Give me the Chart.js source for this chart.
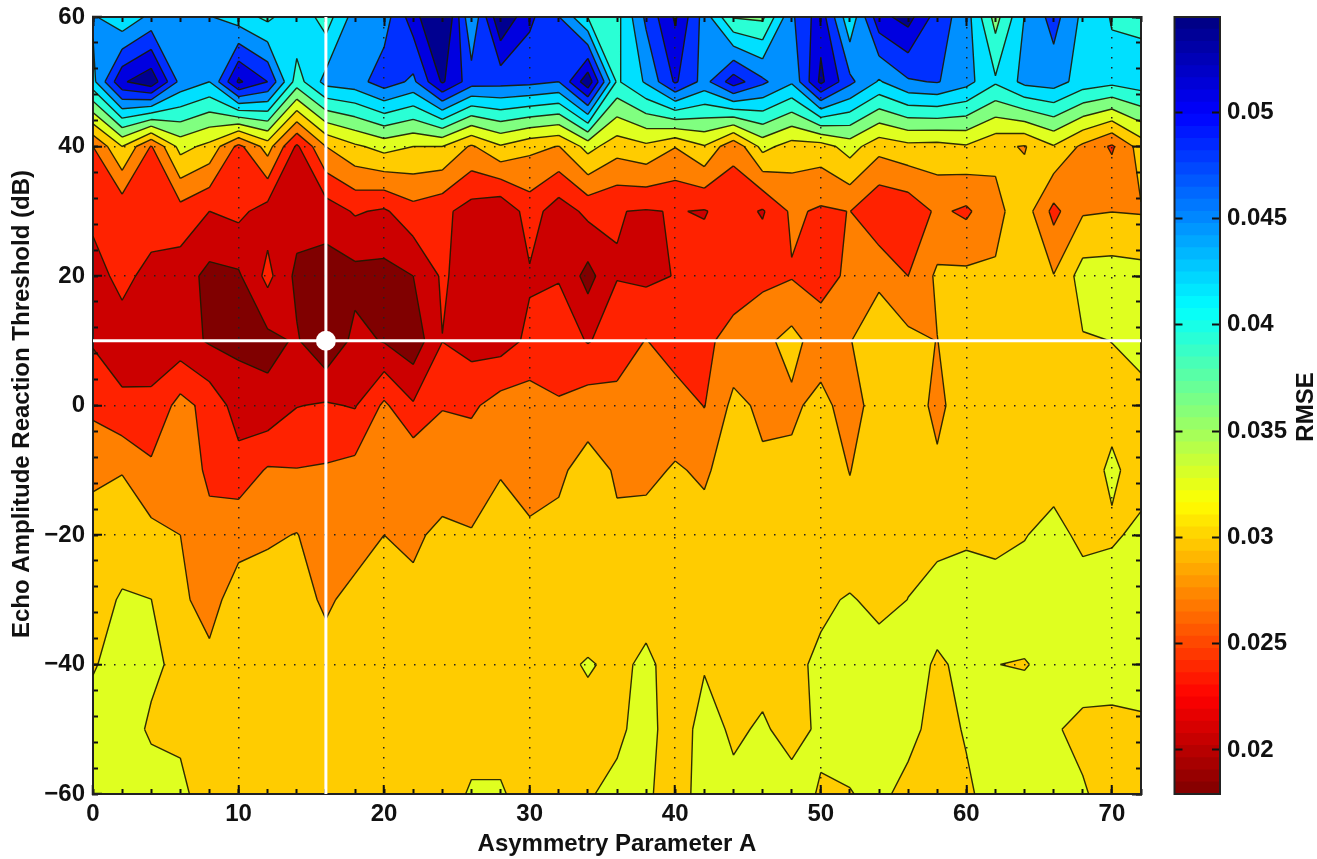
<!DOCTYPE html>
<html>
<head>
<meta charset="utf-8">
<title>RMSE contour</title>
<script src="https://cdn.jsdelivr.net/npm/chart.js@4"></script>
<style>
    html, body { margin: 0; padding: 0; background: #fff; }
    #plot { position: absolute; left: 0; top: 0; }
    #bar { position: absolute; left: 1150px; top: 0; }
</style>
</head>
<body>
<canvas id="plot" width="1317" height="859"></canvas>
<canvas id="bar" width="167" height="859"></canvas>
<script>
// grid of the measurement, RMSE is given x 1000
const asymmetry = [0,2,4,6,8,10,12,14,16,18,20,22,24,26,28,30,32,34,36,38,40,42,44,46,48,50,52,54,56,58,60,62,64,66,68,70,72];
const thresholds = [60,50,40,30,20,10,0,-10,-20,-30,-40,-50,-60];
// one line per asymmetry value, top (60 dB) to bottom (-60 dB)
const rmseByColumn = [
    [43.6,42.4,26.4,24.1,22.8,23.3,25.8,28.4,30.8,30.8,31.8,33,33],
    [40.9,51.2,32,24.4,24.2,22.6,24,29.1,30.5,32.3,33,33,33.2],
    [44,53.6,26.2,24.8,22.9,22.4,24.1,27,30,32.02,32.4,31.7,33],
    [44.2,45.1,33,25.3,22.2,21.9,27.4,28.3,29.2,29.5,31.5,31.6,32.5],
    [43.4,43.2,31.2,23.6,20,20.5,25.4,25.8,27.3,28.6,29.6,31,30.9],
    [41.8,52.1,25.6,24.3,20.4,20.1,22.4,24.6,28.6,30,31,31,30.8],
    [39.7,48.8,30.4,22.4,24.4,20,21.6,26.7,28.8,30.6,31,31,30.8],
    [42.7,39.1,23.1,22.1,20.1,21.1,23.5,26.5,29.3,29.9,31,31,30.8],
    [39,44.2,29.2,22.1,19.5,18.3,23.9,26.7,27.7,28.9,29.9,31,30.9],
    [44.5,44.8,31.5,23.9,19.9,21.6,23.4,27.3,28.3,29.8,31,31,31],
    [44.7,47.5,33,23.2,19.9,20.6,26.9,27.9,29.2,30.5,31,31,31],
    [50.3,45.4,32,25.4,20.8,19,23.9,28.9,29.05,29.4,31,31,31],
    [56,52,32,24.3,24,23.55,26.2,28.7,29.4,30.6,31,31,31.2],
    [43.3,47.3,28.8,22.4,22.2,22.5,25.9,28.4,29.3,30.3,31,31.3,32.2],
    [54.3,47,31.7,21.2,22,22.3,27.6,29.1,29.8,30.6,31,31.3,32.2],
    [49.4,46.8,29.9,24.9,23.3,24.2,27.8,28.7,29.4,30.8,31,31,31.2],
    [46.1,46,29.1,22.1,23.4,25.2,26.6,28.7,29.9,30.3,31.3,31,31.3],
    [40.3,53.6,33,24.3,19.8,23.4,27.8,30.3,30.5,30,32.25,31,31.8],
    [39.5,40,30.4,23.7,23.5,24.9,27.3,28.9,29.6,30.4,31.4,31.5,32.6],
    [46.6,43.6,31.4,23.4,23,26.5,27.6,28.7,30,31,32.5,33,32.5],
    [52,49.2,29.3,23.75,23.7,24.7,28,29.4,30.5,31,31,30.5,30.5],
    [44.8,45,31.8,23.4,25,25.8,26.3,28.9,29.9,31,31.8,33,33.3],
    [37.4,50.3,27,25,24.9,27.4,29.9,30.2,30.8,31.4,31.6,31.6,32.6],
    [37,46.6,32.9,23.3,25.7,28.5,28.7,29.6,31,31.5,31.2,32.3,33],
    [45.5,43.6,30.8,26.9,26.2,30.1,28.7,29.8,31,31.3,31.5,31.2,32.9],
    [50.4,52.3,30.7,26,25.4,27.8,30,31,31.6,31.6,32.4,32.4,31.8],
    [41,46.7,33.2,26.45,26.9,29.1,28,29.1,30.3,32.2,32.9,32.9,31.9],
    [50.7,42.9,30.2,23.8,28.7,30.7,30.5,31.3,31,31.4,33,33.2,32.6],
    [52.7,45.65,31.2,24.4,26.39,30,30.5,31,31.5,32.02,33,32.8,31.2],
    [47.5,46.2,31,26.9,29.7,29.15,28.6,29.6,31.3,33,31.7,31,31],
    [44.5,44.2,31.7,25.9,29.8,31,30.6,31,31.6,33.3,32.5,32.23,31.6],
    [36.5,40.8,29.8,28.5,29.5,31,31,31,31.4,33,32.02,33,33],
    [43.3,44,29,30.6,30,31,31,31,31.9,33,31.9,33,33.2],
    [47.1,44.5,31.8,25.6,29.3,31.2,31,31.1,32.7,33.5,32.5,32.2,33.2],
    [42.5,42,28.6,28.9,33.2,31.8,31,31.2,31.5,33,33,31.5,32.2],
    [40.2,41.2,26,29.15,33.3,32.02,31.47,32.3,31.75,33,33,31.4,31.2],
    [39.6,42,30.4,29,33,32.4,31.6,31.3,32.4,33,32.8,31.7,31.2]
];
const contourLevels = [20.8,23.6,26.4,29.2,32,34.8,37.6,40.4,43.2,46,48.8,51.6];
const bandColors = ['#800000','#cc0000','#ff2200','#ff8000','#ffcc00','#dfff20','#80ff80','#2affd5','#00e0ff','#0090ff','#0030ff','#0000e0','#000090'];
const bestPoint = [16, 10];
const rmseMin = 0.01793;
const rmseMax = 0.05447;
const fontFamily = '"Liberation Sans", Arial, sans-serif';
const labelFont = { family: fontFamily, size: 24, weight: 'bold' };

// clip every grid cell at every level, keep the pieces and the contour chords
let bandPolys = contourLevels.map(function () { return []; });
let contourPoints = [];

function addChord(a, b) {
    contourPoints.push(a, b, { x: NaN, y: NaN });
}

function clipCell(corners, level, polys) {
    let poly = [];
    let cross = [];
    for (let e = 0; e < 4; e++) {
        let a = corners[e];
        let b = corners[(e + 1) % 4];
        let aIn = a.z >= level;
        let bIn = b.z >= level;
        if (aIn) poly.push({ x: a.x, y: a.y });
        if (aIn != bIn) {
            let t = (level - a.z) / (b.z - a.z);
            let p = { x: a.x + t * (b.x - a.x), y: a.y + t * (b.y - a.y) };
            poly.push(p);
            cross.push({ p: p, leaving: aIn, corner: a });
        }
    }
    // saddle cell: the centre value decides which corners join
    let centre = (corners[0].z + corners[1].z + corners[2].z + corners[3].z) / 4;
    if (cross.length == 4 && centre < level) {
        for (let c = 0; c < 4; c++) {
            if (cross[c].leaving) {
                let enter = cross[(c + 3) % 4];
                polys.push([enter.p, { x: cross[c].corner.x, y: cross[c].corner.y }, cross[c].p]);
                addChord(enter.p, cross[c].p);
            }
        }
        return;
    }
    if (poly.length > 2) polys.push(poly);
    for (let c = 0; c < cross.length; c++) {
        if (cross[c].leaving) addChord(cross[c].p, cross[(c + 1) % cross.length].p);
    }
}

for (let i = 0; i < asymmetry.length - 1; i++) {
    for (let j = 0; j < thresholds.length - 1; j++) {
        let corners = [
            { x: asymmetry[i], y: thresholds[j], z: rmseByColumn[i][j] },
            { x: asymmetry[i + 1], y: thresholds[j], z: rmseByColumn[i + 1][j] },
            { x: asymmetry[i + 1], y: thresholds[j + 1], z: rmseByColumn[i + 1][j + 1] },
            { x: asymmetry[i], y: thresholds[j + 1], z: rmseByColumn[i][j + 1] }
        ];
        contourLevels.forEach(function (level, k) {
            clipCell(corners, level, bandPolys[k]);
        });
    }
}

const contourFill = {
    id: 'contourFill',
    beforeDraw: function (chart) {
        let ctx = chart.ctx;
        let area = chart.chartArea;
        let sx = chart.scales.x;
        let sy = chart.scales.y;
        ctx.save();
        ctx.beginPath();
        ctx.rect(area.left, area.top, area.right - area.left, area.bottom - area.top);
        ctx.clip();
        ctx.fillStyle = bandColors[0];
        ctx.fillRect(area.left, area.top, area.right - area.left, area.bottom - area.top);
        bandPolys.forEach(function (polys, k) {
            ctx.fillStyle = bandColors[k + 1];
            ctx.beginPath();
            polys.forEach(function (poly) {
                poly.forEach(function (p, n) {
                    let px = sx.getPixelForValue(p.x);
                    let py = sy.getPixelForValue(p.y);
                    if (n == 0) ctx.moveTo(px, py); else ctx.lineTo(px, py);
                });
                ctx.closePath();
            });
            ctx.fill();
        });
        ctx.restore();
    }
};

// rotated captions, reading bottom to top
function sideCaption(text, x, y) {
    return {
        id: 'caption' + x,
        afterDraw: function (chart) {
            let ctx = chart.ctx;
            ctx.save();
            ctx.translate(x, y);
            ctx.rotate(-Math.PI / 2);
            ctx.font = 'bold 24px ' + fontFamily;
            ctx.fillStyle = '#111';
            ctx.textAlign = 'center';
            ctx.textBaseline = 'middle';
            ctx.fillText(text, 0, 0);
            ctx.restore();
        }
    };
}

// labels may not push the plot area in
function noBleed(s) {
    s.paddingTop = 0;
    s.paddingBottom = 0;
    s.paddingLeft = 0;
    s.paddingRight = 0;
}

function tickAxis(position, min, max, step, length, flat) {
    return {
        type: 'linear',
        position: position,
        min: min,
        max: max,
        weight: 0,
        afterFit: function (s) { if (flat) s.height = 0; else s.width = 0; noBleed(s); },
        border: { color: '#222', width: 2 },
        grid: { drawOnChartArea: false, tickLength: length, tickColor: '#111', tickWidth: 2 },
        ticks: { display: false, stepSize: step, includeBounds: false, autoSkip: false }
    };
}

new Chart(document.getElementById('plot'), {
    type: 'scatter',
    plugins: [contourFill, sideCaption('Echo Amplitude Reaction Threshold (dB)', 22, 404)],
    data: {
        datasets: [
            {
                label: 'contours',
                data: contourPoints,
                showLine: true,
                spanGaps: false,
                pointRadius: 0,
                borderColor: 'rgba(25,25,0,0.9)',
                borderWidth: 1.4,
                order: 3
            },
            {
                label: 'best asymmetry',
                data: [{ x: bestPoint[0], y: -60 }, { x: bestPoint[0], y: 60 }],
                showLine: true,
                pointRadius: 0,
                borderColor: '#fff',
                borderWidth: 3,
                order: 2
            },
            {
                label: 'best threshold',
                data: [{ x: 0, y: bestPoint[1] }, { x: 72, y: bestPoint[1] }],
                showLine: true,
                pointRadius: 0,
                borderColor: '#fff',
                borderWidth: 3,
                order: 2
            },
            {
                label: 'best',
                data: [{ x: bestPoint[0], y: bestPoint[1] }],
                pointRadius: 10,
                pointBackgroundColor: '#fff',
                pointBorderWidth: 0,
                order: 1
            }
        ]
    },
    options: {
        responsive: false,
        animation: false,
        events: [],
        layout: { padding: { top: 17, right: 176, left: 0, bottom: 0 } },
        plugins: { legend: { display: false }, tooltip: { enabled: false } },
        scales: {
            x: {
                type: 'linear',
                position: 'bottom',
                min: 0,
                max: 72,
                weight: 1,
                afterFit: function (s) { s.height = 65; noBleed(s); },
                border: { color: '#222', width: 2, dash: [1.5, 8.5] },
                grid: { color: '#222', lineWidth: 1.5, tickLength: -9, tickColor: '#111', tickWidth: 2, tickBorderDash: [] },
                ticks: {
                    stepSize: 10,
                    includeBounds: false,
                    autoSkip: false,
                    maxRotation: 0,
                    padding: 15,
                    color: '#111',
                    font: labelFont
                },
                title: {
                    display: true,
                    text: 'Asymmetry Parameter A',
                    color: '#111',
                    padding: { top: 0, bottom: 0 },
                    font: labelFont
                }
            },
            y: {
                type: 'linear',
                position: 'left',
                min: -60,
                max: 60,
                weight: 1,
                afterFit: function (s) { s.width = 93; noBleed(s); },
                border: { color: '#222', width: 2, dash: [1.5, 8.5] },
                grid: { color: '#222', lineWidth: 1.5, tickLength: -9, tickColor: '#111', tickWidth: 2, tickBorderDash: [] },
                ticks: {
                    stepSize: 20,
                    includeBounds: false,
                    autoSkip: false,
                    padding: 17,
                    color: '#111',
                    font: labelFont,
                    callback: function (v) { return String(v).replace('-', '\u2212'); }
                }
            },
            xMinor: tickAxis('bottom', 0, 72, 2, -5, true),
            xTop: tickAxis('top', 0, 72, 10, -9, true),
            xTopMinor: tickAxis('top', 0, 72, 2, -5, true),
            yMinor: tickAxis('left', -60, 60, 4, -5, false),
            yRight: tickAxis('right', -60, 60, 20, -9, false),
            yRightMinor: tickAxis('right', -60, 60, 4, -5, false)
        }
    }
});

// colour bar, 64 rows of jet running from dark blue at the top to dark red at the bottom
function jet(t) {
    let ch = function (v) { return Math.round(255 * Math.max(0, Math.min(1, v))); };
    let r = ch(Math.min(4 * t - 1.5, -4 * t + 4.5));
    let g = ch(Math.min(4 * t - 0.5, -4 * t + 3.5));
    let b = ch(Math.min(4 * t + 0.5, -4 * t + 2.5));
    return 'rgb(' + r + ',' + g + ',' + b + ')';
}

let barRows = [];
let rowStep = (rmseMax - rmseMin) / 64;
for (let n = 0; n < 64; n++) {
    let lo = rmseMin + n * rowStep;
    barRows.push({
        data: [[lo - rowStep * 0.3, lo + rowStep]],
        backgroundColor: jet(1 - (n + 0.5) / 64),
        borderWidth: 0,
        barPercentage: 1,
        categoryPercentage: 1,
        grouped: false
    });
}

const barFrame = {
    id: 'barFrame',
    afterDraw: function (chart) {
        let a = chart.chartArea;
        chart.ctx.save();
        chart.ctx.strokeStyle = '#222';
        chart.ctx.lineWidth = 2;
        chart.ctx.strokeRect(a.left, a.top, a.right - a.left, a.bottom - a.top);
        chart.ctx.restore();
    }
};

new Chart(document.getElementById('bar'), {
    type: 'bar',
    plugins: [barFrame, sideCaption('RMSE', 156, 407)],
    data: { labels: [''], datasets: barRows },
    options: {
        responsive: false,
        animation: false,
        events: [],
        layout: { padding: { top: 17, bottom: 65, left: 0, right: 0 } },
        plugins: { legend: { display: false }, tooltip: { enabled: false } },
        scales: {
            x: { display: false },
            y: {
                position: 'right',
                min: rmseMin,
                max: rmseMax,
                afterFit: function (s) { s.width = 97; noBleed(s); },
                border: { display: false },
                grid: { drawOnChartArea: false, tickLength: -8, tickColor: '#111', tickWidth: 2, z: 1 },
                ticks: {
                    stepSize: 0.005,
                    includeBounds: false,
                    autoSkip: false,
                    padding: 15,
                    color: '#111',
                    font: labelFont,
                    callback: function (v) { return String(parseFloat(v.toFixed(3))); }
                }
            },
            yLeft: {
                type: 'linear',
                position: 'left',
                min: rmseMin,
                max: rmseMax,
                afterFit: function (s) { s.width = 24.5; noBleed(s); },
                border: { display: false },
                grid: { drawOnChartArea: false, tickLength: -8, tickColor: '#111', tickWidth: 2, z: 1 },
                ticks: { display: false, stepSize: 0.005, includeBounds: false, autoSkip: false }
            }
        }
    }
});
</script>
</body>
</html>
